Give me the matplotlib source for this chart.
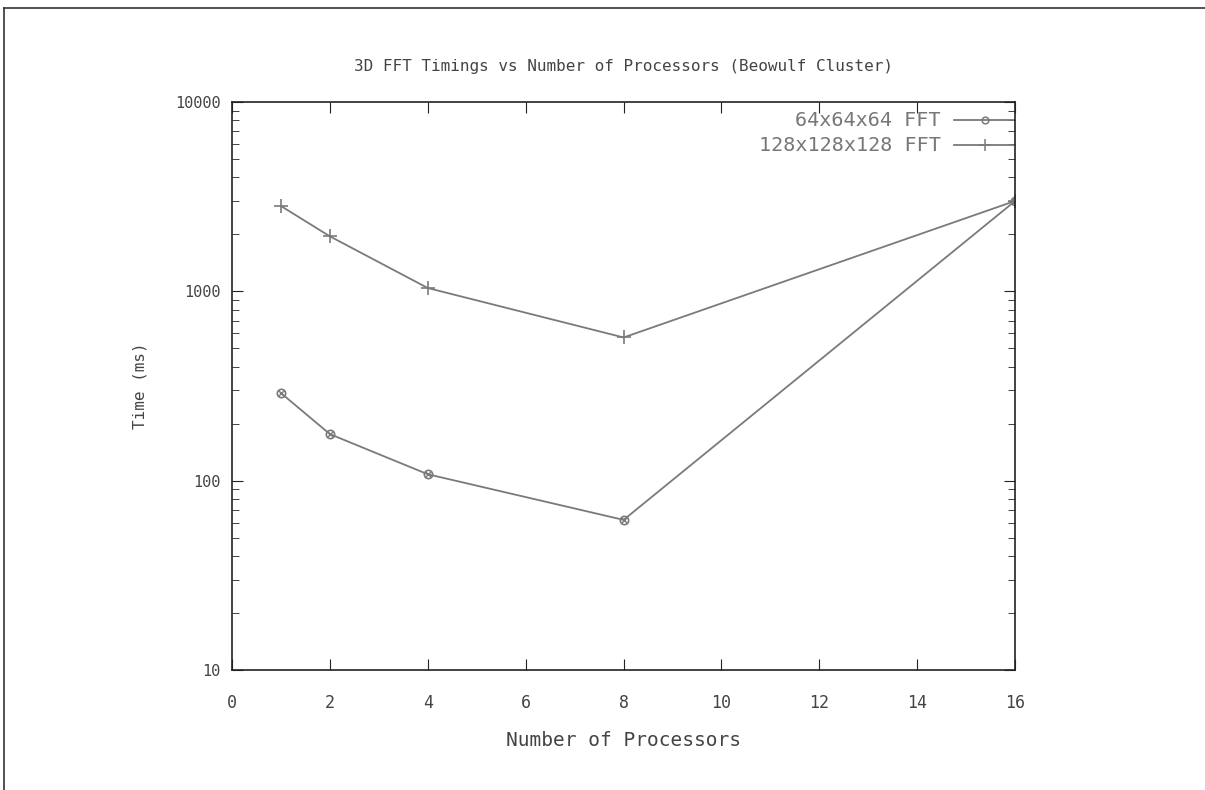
import matplotlib
matplotlib.use("Agg")
import matplotlib.pyplot as plt
from matplotlib.lines import Line2D

procs = [1, 2, 4, 8, 16]
fft64 = [290, 176, 108, 62, 3000]
fft128 = [2820, 1950, 1040, 570, 3000]
labels = ["64x64x64 FFT", "128x128x128 FFT"]

plt.rcParams["font.family"] = "DejaVu Sans Mono"
plt.rcParams["font.size"] = 11
line_col = "#7a7a7a"
text_col = "#444444"

fig = plt.figure(figsize=(12.05, 7.9), dpi=100)
ax = fig.add_axes([0.1925, 0.152, 0.65, 0.719])

ax.plot(procs, fft64, color=line_col, lw=1.3, marker="o", ms=6, mfc="none", mew=1.2)
ax.plot(procs, fft64, color=line_col, lw=0, marker="x", ms=5, mew=1.0)
ax.plot(procs, fft128, color=line_col, lw=1.3, marker="+", ms=10, mew=1.2)

ax.set_yscale("log")
ax.set_xlim(0, 16)
ax.set_ylim(10, 10000)
ax.set_xticks([0, 2, 4, 6, 8, 10, 12, 14, 16])
ax.set_yticks([10, 100, 1000, 10000])
ax.set_yticklabels(["10", "100", "1000", "10000"])
ax.tick_params(which="both", direction="in", top=True, right=True, colors="#222222",
               labelcolor=text_col)
ax.tick_params(axis="y", pad=8)
ax.tick_params(axis="x", pad=17, labelsize=12)
ax.tick_params(which="major", length=8)
ax.tick_params(which="minor", length=5)
for s in ax.spines.values():
    s.set_color("#222222")
    s.set_linewidth(1.2)

ax.set_title("3D FFT Timings vs Number of Processors (Beowulf Cluster)", color=text_col,
             fontsize=11.5, pad=22)
ax.set_xlabel("Number of Processors", color=text_col, fontsize=14, labelpad=14)
ax.set_ylabel("Time (ms)", color=text_col, fontsize=11.5, labelpad=20)

# legend, gnuplot style: right-aligned text with sample line
for i, (lab, mk, ms) in enumerate(zip(labels, ["o", "+"], [6, 10])):
    yy = 0.968 - i * 0.044
    ax.text(0.905, yy, lab, transform=ax.transAxes, ha="right", va="center",
            color="#777777", fontsize=14.5)
    ax.add_line(Line2D([0.922, 1.0], [yy, yy], transform=ax.transAxes, color=line_col, lw=1.3))
    ax.add_line(Line2D([0.961], [yy], transform=ax.transAxes, color=line_col, lw=0,
                       marker=mk, ms=ms * 0.8, mfc="none", mew=1.1))

# outer frame lines (top and left)
fig.add_artist(Line2D([0.003, 1.0], [0.99, 0.99], transform=fig.transFigure, color="#333333", lw=1.2))
fig.add_artist(Line2D([0.003, 0.003], [0.0, 0.99], transform=fig.transFigure, color="#333333", lw=1.2))

fig.savefig("out.png", dpi=100)
